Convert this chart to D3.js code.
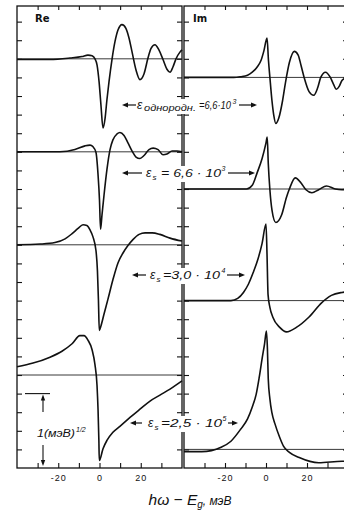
<!DOCTYPE html>
<html>
<head>
<meta charset="utf-8">
<script src="https://cdn.jsdelivr.net/npm/d3@7"></script>
<style>
  body { margin: 0; background: #fff; }
  text { fill: #111; }
</style>
</head>
<body>
<svg id="chart" width="344" height="513"></svg>
<script>
// x: hω - Eg, meV ; y: (meV)^1/2, offsets from each curve's own baseline
const xTicks = [-20, 0, 20];
const reBaselines = [5.5, 4.25, 3.0, 1.25];
const imBaselines = [5.25, 3.75, 2.25, 0.25];

const reHomog = [[-40,-0.01],[-24,-0.01],[-14.3,0.01],[-8.5,0.03],[-5.6,0.05],[-3.6,0.04],[-2.2,0],
  [-1.2,-0.08],[-0.2,-0.31],[0.7,-0.62],[1.7,-0.93],[2.7,-0.8],[3.6,-0.55],[4.6,-0.31],[6.1,0],
  [7.5,0.23],[9,0.39],[10.9,0.46],[12.8,0.41],[14.3,0.28],[15.8,0.09],[17.7,-0.15],[19.6,-0.28],
  [21.6,-0.2],[23.5,0.01],[25,0.14],[26.9,0.19],[28.8,0.12],[30.8,-0.01],[32.7,-0.14],[34.2,-0.18],
  [35.6,-0.11],[37.1,0],[39,0.09],[40,0.12]];
const reS1 = [[-40,0],[-19.2,0],[-11.9,0.03],[-7,0.08],[-4.6,0.09],[-3.2,0.07],[-1.7,-0.01],
  [-0.7,-0.31],[0,-0.65],[0.5,-1.04],[1.2,-0.85],[2.2,-0.58],[3.6,-0.24],[5.1,0.03],[6.5,0.16],
  [8.5,0.24],[9.9,0.26],[11.9,0.22],[13.8,0.12],[15.8,0.01],[17.7,-0.07],[19.6,-0.09],[21.6,-0.05],
  [24,0.03],[26,0.05],[28.4,0.03],[30.8,-0.04],[32.7,-0.03],[35.2,0.01],[37.6,0.01],[40,0]];
const reS2 = [[-40,0],[-28.8,0.01],[-21.6,0.03],[-16.7,0.08],[-13.3,0.15],[-10.4,0.22],[-8,0.27],
  [-6.1,0.26],[-4.6,0.2],[-3.2,0.11],[-1.7,-0.08],[-1,-0.35],[-0.5,-0.76],[-0.1,-1.15],[0.7,-1.09],
  [2.2,-0.93],[4.1,-0.73],[6.5,-0.47],[9,-0.24],[11.4,-0.11],[13.8,-0.01],[16.2,0.07],[19.2,0.14],
  [22.1,0.16],[25.5,0.16],[29.3,0.14],[34.2,0.09],[40,0.05]];
const reS3 = [[-40,0.11],[-32.2,0.16],[-24,0.24],[-18.2,0.32],[-13.3,0.42],[-9.5,0.53],[-7.5,0.53],
  [-5.6,0.47],[-3.6,0.34],[-2.2,0.14],[-1.2,-0.14],[-0.7,-0.47],[-0.3,-0.88],[-0.1,-1.15],
  [1.7,-0.99],[3.6,-0.88],[6.5,-0.77],[9.9,-0.69],[14.8,-0.57],[19.6,-0.46],[24.5,-0.35],
  [29.3,-0.27],[34.2,-0.19],[40,-0.08]];

const imHomog = [[-40,0],[-15.7,0],[-12.4,0.01],[-9,0.03],[-6.7,0.07],[-4.3,0.14],[-2.4,0.23],
  [-1,0.36],[0.5,0.53],[1.2,0.23],[1.9,0],[2.9,-0.31],[3.8,-0.51],[4.8,-0.62],[6.2,-0.55],
  [8.1,-0.31],[9.5,-0.07],[11.4,0.2],[13.8,0.35],[15.7,0.3],[17.1,0.16],[18.6,0],[21,-0.19],
  [23.3,-0.24],[25.2,-0.14],[26.7,0],[29,0.07],[31.4,0],[32.9,-0.09],[34.3,-0.16],[35.7,-0.12],
  [37.1,-0.04],[40,0]];
const imS1 = [[-40,0],[-9.5,0],[-6.7,0.05],[-4.3,0.22],[-1.9,0.41],[0,0.62],[0.6,0.7],[1.1,0.35],
  [1.9,-0.01],[2.9,-0.28],[4.8,-0.45],[7.6,-0.35],[10,-0.11],[11.4,0],[14.3,0.15],[17.1,0.08],
  [19.5,-0.01],[22.4,-0.05],[25.7,-0.01],[29.5,0.04],[33.8,0],[37.1,-0.01],[40,0]];
const imS2 = [[-40,0],[-17.1,0],[-13.8,0.03],[-11,0.11],[-8.6,0.22],[-6.2,0.38],[-3.8,0.57],
  [-1.9,0.77],[0,1.03],[0.5,0.62],[1,0.08],[1.9,-0.09],[3.3,-0.22],[6.7,-0.36],[10,-0.42],
  [14.8,-0.36],[21,-0.22],[27.1,-0.03],[31.9,0.07],[37.1,0.11],[40,0.12]];
const imS3 = [[-40,-0.03],[-31.4,-0.03],[-21.9,0.03],[-17.1,0.11],[-12.4,0.27],[-9,0.41],
  [-6.7,0.57],[-4.8,0.74],[-3.3,0.97],[-1.9,1.22],[-0.7,1.42],[0.2,1.59],[0.7,1.35],[1.1,0.95],
  [1.9,0.68],[2.9,0.49],[4.3,0.35],[6.7,0.16],[8.6,0.04],[11.4,-0.04],[16.2,-0.11],[25.7,-0.18],
  [37.1,-0.16],[40,-0.16]];

const reCurves = [reHomog, reS1, reS2, reS3];
const imCurves = [imHomog, imS1, imS2, imS3];

const svg = d3.select("#chart");
const yTop = 6, yBot = 468;
const y = d3.scaleLinear().domain([0, 6.21]).range([yBot, yTop]);
const xRe = d3.scaleLinear().domain([-40, 40]).range([17, 182]);
const xIm = d3.scaleLinear().domain([-40, 40]).range([184, 348]);
const minorX = d3.range(-30, 31, 10);
const minorY = d3.range(0.25, 6.2, 0.25);

svg.append("clipPath").attr("id", "clipIm")
  .append("rect").attr("x", 183).attr("y", 0).attr("width", 161).attr("height", 513);

function panel(x, baselines, curves, name, labelX, clip) {
  const g = svg.append("g");
  if (clip) g.attr("clip-path", "url(#clipIm)");
  const [x0, x1] = x.range();

  // ticks, pointing inward
  g.append("g").attr("transform", `translate(0,${yBot})`)
    .call(d3.axisBottom(x).tickValues(minorX).tickSize(-5).tickSizeOuter(0)
      .tickFormat(d => xTicks.includes(d) ? String(d) : ""))
    .call(a => a.select(".domain").remove())
    .call(a => a.selectAll("line").attr("stroke", "#111").attr("stroke-width", 1.1))
    .call(a => a.selectAll("text").attr("dy", 0).attr("y", 13)
      .style("font", "9px 'Liberation Sans', sans-serif").style("letter-spacing", "1px").attr("fill", "#111"));
  g.append("g").attr("transform", `translate(0,${yTop})`)
    .call(d3.axisTop(x).tickValues(minorX).tickSize(-4).tickSizeOuter(0).tickFormat(""))
    .call(a => a.select(".domain").remove())
    .call(a => a.selectAll("line").attr("stroke", "#111").attr("stroke-width", 1.1));
  g.append("g").attr("transform", `translate(${x0},0)`)
    .call(d3.axisLeft(y).tickValues(minorY).tickSize(-5).tickSizeOuter(0).tickFormat(""))
    .call(a => a.select(".domain").remove())
    .call(a => a.selectAll("line").attr("stroke", "#111").attr("stroke-width", 1.1));
  g.append("g").attr("transform", `translate(${x1},0)`)
    .call(d3.axisRight(y).tickValues(minorY).tickSize(-5).tickSizeOuter(0).tickFormat(""))
    .call(a => a.select(".domain").remove())
    .call(a => a.selectAll("line").attr("stroke", "#111").attr("stroke-width", 1.1));

  g.append("rect").attr("x", x0).attr("y", yTop).attr("width", x1 - x0).attr("height", yBot - yTop)
    .attr("fill", "none").attr("stroke", "#111").attr("stroke-width", 1.3);

  // baselines
  g.selectAll(".base").data(baselines).join("line")
    .attr("x1", x0).attr("x2", x1).attr("y1", d => y(d)).attr("y2", d => y(d))
    .attr("stroke", "#222").attr("stroke-width", 0.9);

  // curves
  curves.forEach((c, i) => {
    const line = d3.line().x(d => x(d[0])).y(d => y(baselines[i] + d[1])).curve(d3.curveMonotoneX);
    g.append("path").attr("d", line(c)).attr("fill", "none")
      .attr("stroke", "#111").attr("stroke-width", 1.6).attr("stroke-linejoin", "round");
  });

  g.append("text").attr("x", labelX).attr("y", 22).text(name)
    .style("font", "bold 10px 'DejaVu Sans', sans-serif");
}

panel(xRe, reBaselines, reCurves, "Re", 35, false);
panel(xIm, imBaselines, imCurves, "Im", 193, true);

// white gaps where the labels cross the panel borders
[[137, 99, 98, 15], [145, 166, 80, 16], [149, 268, 78, 16], [147, 416, 78, 16]].forEach(r =>
  svg.append("rect").attr("x", r[0]).attr("y", r[1]).attr("width", r[2]).attr("height", r[3]).attr("fill", "#fff"));

// arrows
function arrow(xa, xb, yy) {
  // xb is the tip
  const dir = Math.sign(xb - xa);
  svg.append("line").attr("x1", xa).attr("x2", xb - dir * 3).attr("y1", yy).attr("y2", yy)
    .attr("stroke", "#111").attr("stroke-width", 1.2);
  svg.append("path").attr("d", `M${xb},${yy}L${xb - dir * 6},${yy - 2.5}L${xb - dir * 6},${yy + 2.5}Z`)
    .attr("fill", "#111");
}
function vArrow(xx, ya, yb) {
  const dir = Math.sign(yb - ya);
  svg.append("line").attr("x1", xx).attr("x2", xx).attr("y1", ya).attr("y2", yb - dir * 3)
    .attr("stroke", "#111").attr("stroke-width", 1.1);
  svg.append("path").attr("d", `M${xx},${yb}L${xx - 2.2},${yb - dir * 6}L${xx + 2.2},${yb - dir * 6}Z`)
    .attr("fill", "#111");
}
function txt(xx, yy, s, size, len) {
  const t = svg.append("text").attr("x", xx).attr("y", yy).text(s)
    .style("font", `italic ${size}px 'Liberation Sans', sans-serif`);
  if (len) t.attr("textLength", len).attr("lengthAdjust", "spacingAndGlyphs");
  return t;
}

// ε однородн.
arrow(136, 122, 105);
txt(137, 109, "ε", 12);
txt(144, 111, "однородн.", 9, 52);
txt(199, 109, "=6,6·10", 10, 32);
txt(232.5, 103.5, "3", 7);
arrow(239, 257, 105);

// ε_s = 6,6·10^3
arrow(142, 122, 173);
txt(146, 177, "ε", 12);
txt(152.5, 180, "s", 8);
txt(161, 177, "= 6,6 · 10", 10, 60);
txt(221.5, 171, "3", 7);
arrow(228, 255, 173);

// ε_s = 3,0·10^4
arrow(146, 132, 275);
txt(150, 279, "ε", 12);
txt(156.5, 282, "s", 8);
txt(163, 279, "=3,0 · 10", 10, 57);
txt(221.5, 273, "4", 7);
arrow(227, 245, 275);

// ε_s = 2,5·10^5
arrow(142, 130, 423);
txt(148, 427, "ε", 12);
txt(154.5, 430, "s", 8);
txt(161, 427, "=2,5 · 10", 10, 61);
txt(222.5, 421, "5", 7);
arrow(228, 238, 423);

// scale bar: 1 (meV)^1/2
svg.append("line").attr("x1", 25).attr("x2", 50).attr("y1", y(1)).attr("y2", y(1))
  .attr("stroke", "#111").attr("stroke-width", 1.1);
vArrow(43, 412, y(1) + 1);
vArrow(43, 445, y(0) - 2);
txt(37, 437, "1(мэВ)", 10, 38);
txt(76, 432, "1/2", 7);

// x title
svg.append("text").attr("x", 190).attr("y", 505).attr("text-anchor", "middle")
  .style("font", "italic 15.5px 'Liberation Sans', sans-serif")
  .call(t => {
    t.append("tspan").text("hω − E");
    t.append("tspan").attr("dy", 3).style("font-size", "10px").text("g");
    t.append("tspan").attr("dy", -3).style("font-size", "12px").text(", мэВ");
  });
</script>
</body>
</html>
